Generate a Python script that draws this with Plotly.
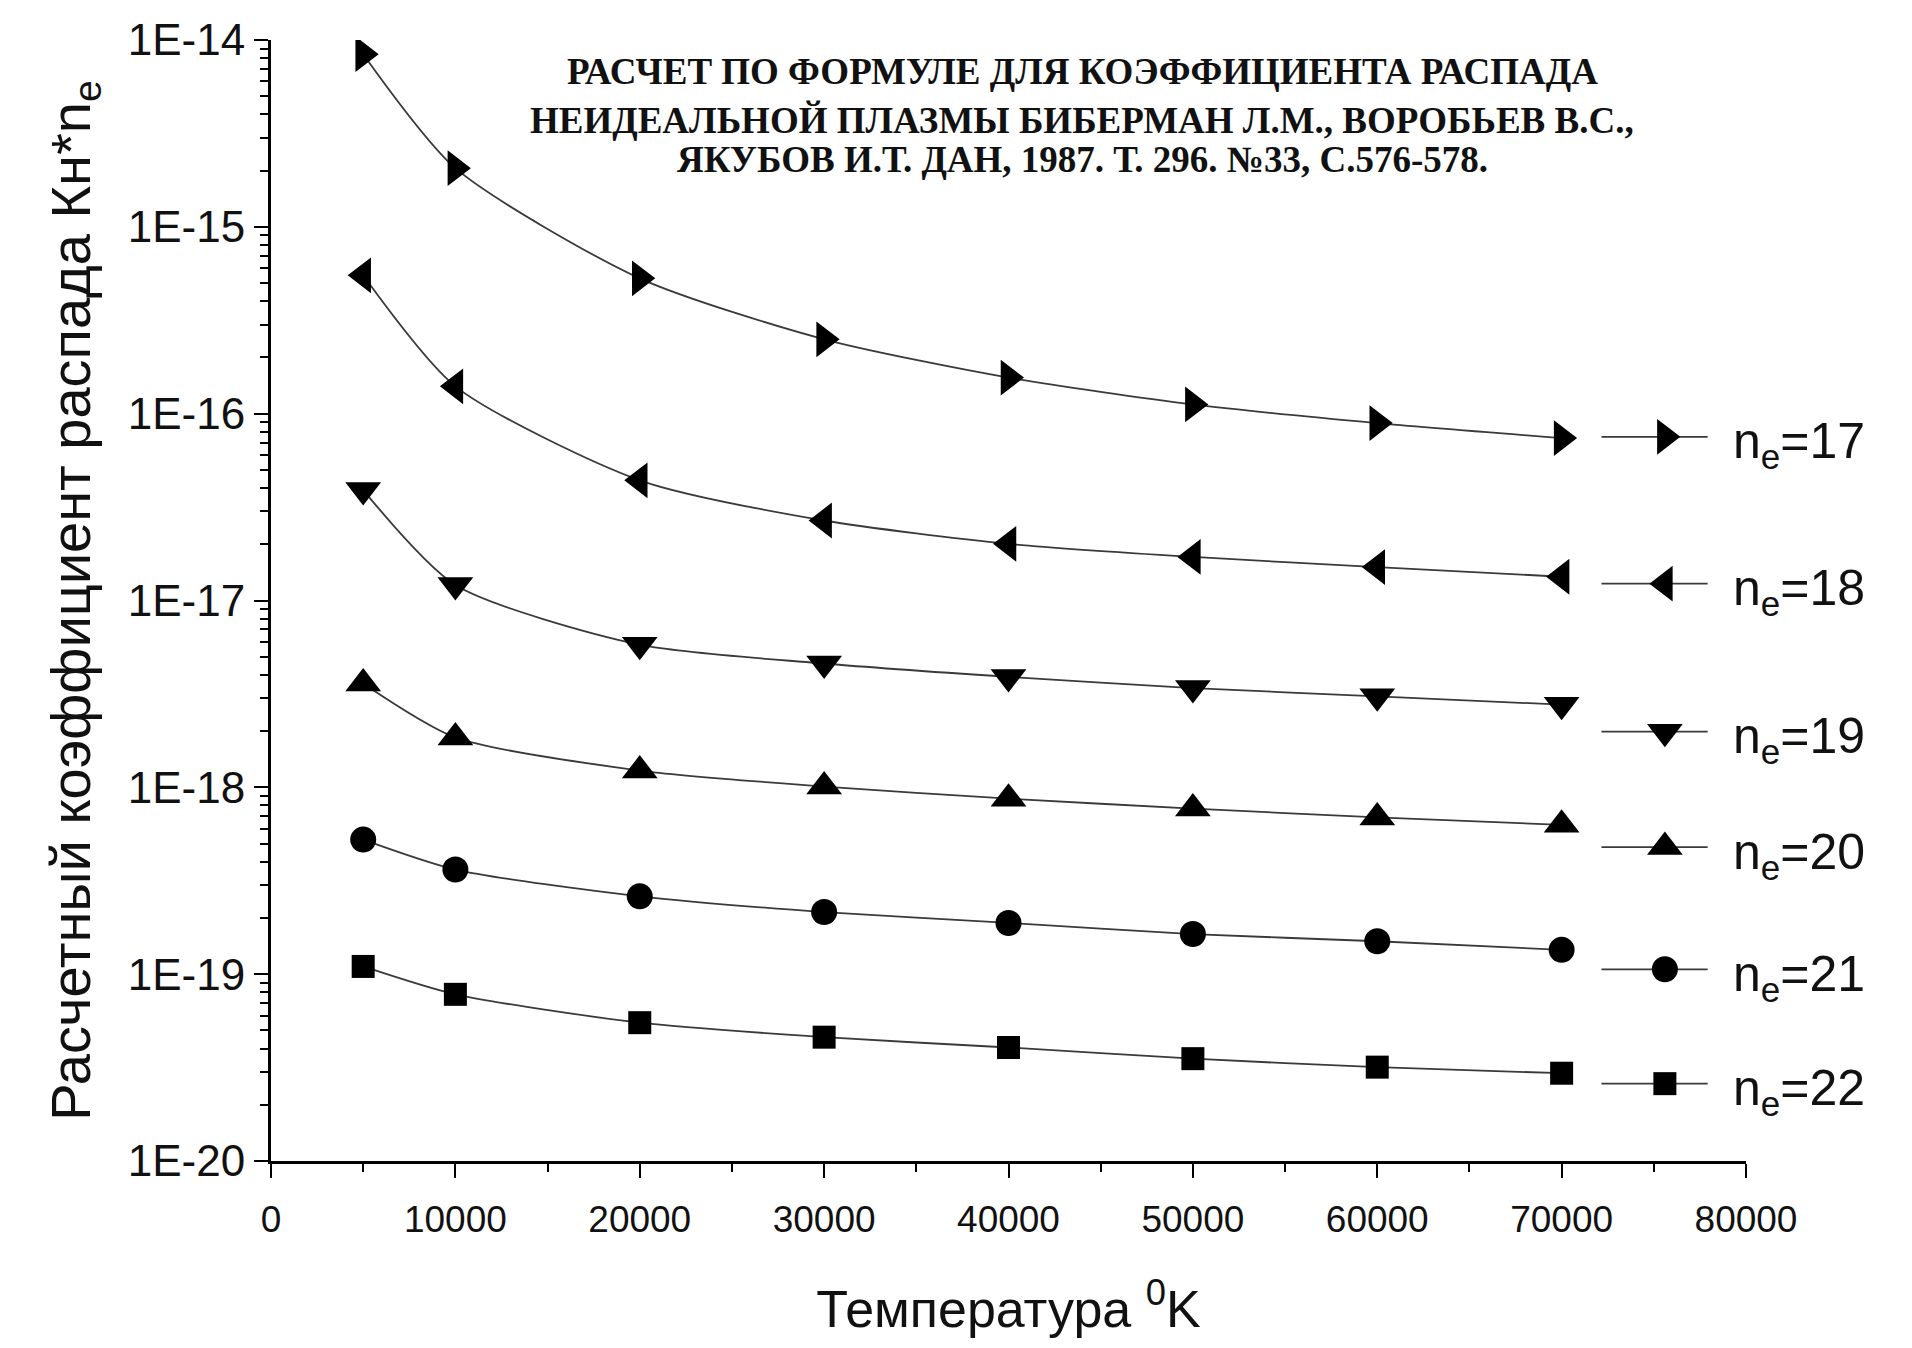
import plotly.graph_objects as go

# Temperature grid, K
temperature = [5000, 10000, 20000, 30000, 40000, 50000, 60000, 70000]

# Decay coefficient Kн*n_e for each electron level n_e
k_ne17 = [8.4e-15, 2.06e-15, 5.3e-16, 2.5e-16, 1.56e-16, 1.12e-16, 8.9e-17, 7.4e-17]
k_ne18 = [5.5e-16, 1.40e-16, 4.4e-17, 2.68e-17, 2.01e-17, 1.71e-17, 1.51e-17, 1.34e-17]
k_ne19 = [3.9e-17, 1.21e-17, 5.8e-18, 4.6e-18, 3.9e-18, 3.4e-18, 3.07e-18, 2.77e-18]
k_ne20 = [3.6e-18, 1.85e-18, 1.23e-18, 1.01e-18, 8.7e-19, 7.7e-19, 6.9e-19, 6.3e-19]
k_ne21 = [5.25e-19, 3.63e-19, 2.61e-19, 2.15e-19, 1.88e-19, 1.64e-19, 1.50e-19, 1.35e-19]
k_ne22 = [1.10e-19, 7.8e-20, 5.5e-20, 4.6e-20, 4.05e-20, 3.53e-20, 3.18e-20, 2.95e-20]

levels = ["17", "18", "19", "20", "21", "22"]
series = [k_ne17, k_ne18, k_ne19, k_ne20, k_ne21, k_ne22]
symbols = ["triangle-right", "triangle-left", "triangle-down", "triangle-up", "circle", "square"]
marker_sizes = [31, 31, 31, 31, 26, 23]

y_tick_vals = [1e-20, 1e-19, 1e-18, 1e-17, 1e-16, 1e-15, 1e-14]
y_tick_text = ["1E-20", "1E-19", "1E-18", "1E-17", "1E-16", "1E-15", "1E-14"]
x_tick_vals = [0, 10000, 20000, 30000, 40000, 50000, 60000, 70000, 80000]
x_tick_text = ["0", "10000", "20000", "30000", "40000", "50000", "60000", "70000", "80000"]

title_lines = [
    "РАСЧЕТ ПО ФОРМУЛЕ ДЛЯ КОЭФФИЦИЕНТА РАСПАДА",
    "НЕИДЕАЛЬНОЙ ПЛАЗМЫ БИБЕРМАН Л.М., ВОРОБЬЕВ В.С.,",
    "ЯКУБОВ И.Т. ДАН, 1987. Т. 296. №33, С.576-578.",
]

# Key rows placed beside the curve ends (paper fractions of the plot area)
key_rows_y = [0.646, 0.515, 0.383, 0.280, 0.171, 0.069]
key_line_x = [0.902, 0.974]
key_mark_x = 0.945
key_text_x = 0.99

SANS = "Liberation Sans, Arial, sans-serif"
SERIF = "Liberation Serif, Times New Roman, serif"
LINE_COLOR = "#3a3a3a"

fig = go.Figure()

for lvl, vals, sym, ms in zip(levels, series, symbols, marker_sizes):
    fig.add_trace(go.Scatter(
        x=temperature, y=vals, mode="lines+markers",
        line=dict(color=LINE_COLOR, width=1.8, shape="spline", smoothing=0.7),
        marker=dict(symbol=sym, size=ms, color="black", line=dict(width=0)),
        showlegend=False, name="n_e=" + lvl,
    ))

# Hand-placed key: short line with a marker, then the label
for lvl, ry, sym, ms in zip(levels, key_rows_y, symbols, marker_sizes):
    fig.add_trace(go.Scatter(
        x=key_line_x, y=[ry, ry], mode="lines",
        line=dict(color=LINE_COLOR, width=1.8),
        xaxis="x2", yaxis="y2", showlegend=False, hoverinfo="skip",
    ))
    fig.add_trace(go.Scatter(
        x=[key_mark_x], y=[ry], mode="markers",
        marker=dict(symbol=sym, size=ms, color="black"),
        xaxis="x2", yaxis="y2", showlegend=False, hoverinfo="skip",
    ))
    fig.add_annotation(
        x=key_text_x, y=ry, xref="paper", yref="paper",
        xanchor="left", yanchor="middle", yshift=-8,
        text="n<sub>e</sub>=" + lvl, showarrow=False,
        font=dict(family=SANS, size=50, color="#111"),
    )

title_y = [0.972, 0.928, 0.893]
for line, ty in zip(title_lines, title_y):
    fig.add_annotation(
        x=0.55, y=ty, xref="paper", yref="paper",
        xanchor="center", yanchor="middle", showarrow=False,
        text="<b>" + line + "</b>",
        font=dict(family=SERIF, size=37, color="#111"),
    )

fig.update_layout(
    width=1912, height=1348,
    margin=dict(l=271, r=166, t=40, b=187),
    paper_bgcolor="white", plot_bgcolor="white",
    xaxis=dict(
        range=[0, 80000], tickmode="array", tickvals=x_tick_vals, ticktext=x_tick_text,
        showgrid=False, zeroline=False, showline=True, linecolor="black", linewidth=3,
        ticks="outside", ticklen=14, tickwidth=2, tickcolor="black",
        minor=dict(ticks="outside", ticklen=8, tickwidth=2, tickcolor="black", dtick=5000),
        tickfont=dict(family=SANS, size=37, color="#111"),
        ticklabelstandoff=10,
        title=dict(text="Температура <sup>0</sup>K", font=dict(family=SANS, size=52, color="#111"),
                   standoff=52),
    ),
    yaxis=dict(
        type="log", range=[-20, -14], tickmode="array", tickvals=y_tick_vals, ticktext=y_tick_text,
        showgrid=False, zeroline=False, showline=True, linecolor="black", linewidth=3,
        ticks="outside", ticklen=14, tickwidth=2, tickcolor="black",
        minor=dict(ticks="outside", ticklen=8, tickwidth=2, tickcolor="black", dtick="D1", showgrid=False),
        tickfont=dict(family=SANS, size=44, color="#111"),
        title=dict(text="Расчетный коэффициент распада Кн*n<sub>e</sub>",
                   font=dict(family=SANS, size=56, color="#111"), standoff=20),
    ),
    xaxis2=dict(range=[0, 1], visible=False, overlaying="x", anchor="y2", fixedrange=True),
    yaxis2=dict(range=[0, 1], visible=False, overlaying="y", anchor="x2", fixedrange=True),
)

fig.write_html("out.html")
